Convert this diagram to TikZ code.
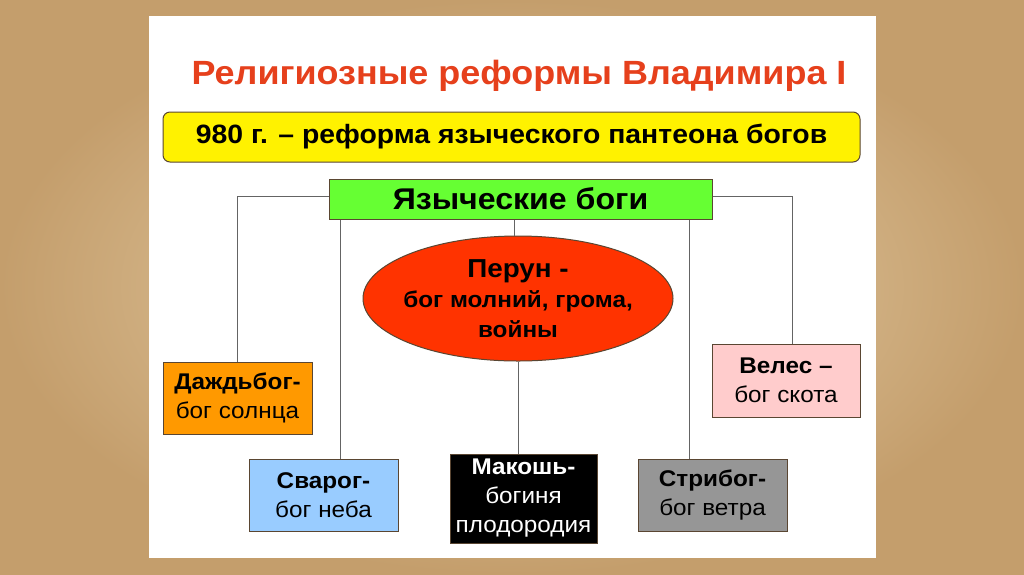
\documentclass[tikz,border=0pt]{standalone}
\usepackage{fontspec}
\setmainfont[FakeStretch=1.07]{Liberation Sans}
\usetikzlibrary{shapes.geometric}

\definecolor{parch}{RGB}{232,211,174}
\definecolor{parchdark}{RGB}{196,158,108}
\definecolor{titlered}{RGB}{230,64,28}
\definecolor{boxline}{RGB}{90,70,50}
\definecolor{linegray}{RGB}{100,100,100}
\definecolor{dazhdfill}{RGB}{255,153,0}
\definecolor{svarogfill}{RGB}{153,204,255}
\definecolor{stribogfill}{RGB}{150,150,150}
\definecolor{velesfill}{RGB}{255,204,204}
\definecolor{godsfill}{RGB}{102,255,51}
\definecolor{perunfill}{RGB}{255,51,0}

\begin{document}
\begin{tikzpicture}[x=1pt,y=-1pt,
  godbox/.style={draw=boxline,line width=1pt,minimum width=149pt,minimum height=72pt,
    inner sep=0pt,align=center,font=\fontsize{22.7}{29}\selectfont},
  link/.style={draw=linegray,line width=1pt}]

% parchment and slide
\shade[inner color=parch,outer color=parchdark] (0,0) rectangle (1024,574);
\useasboundingbox (0,0) rectangle (1024,574);
\fill[white] (149,16) rectangle (876,558);

% headings
\node (title) at (519,76) {\fontsize{33.6}{36}\selectfont\bfseries\color{titlered}Религиозные реформы Владимира I};
\node[draw=boxline,fill=yellow,rounded corners=7pt,line width=1pt,minimum width=697pt,minimum height=50pt]
  (reform) at (511.5,137) {\fontsize{26.5}{28}\selectfont\bfseries 980 г. – реформа языческого пантеона богов};
\node[draw=boxline,fill=godsfill,line width=1pt,minimum width=383pt,minimum height=40pt]
  (gods) at (520.5,199) {\fontsize{30}{30}\selectfont\bfseries Языческие боги};

% gods
\node[ellipse,draw=boxline,fill=perunfill,line width=1pt,minimum width=310pt,minimum height=125pt,
  inner xsep=-8pt,inner ysep=-12pt,align=center,font=\fontsize{22.7}{30}\selectfont\bfseries] (perun) at (518,298.5)
  {{\fontsize{26}{30}\selectfont Перун -}\\бог молний, грома,\\войны};
\node[godbox,fill=dazhdfill] (dazhd) at (237.5,398) {{\bfseries Даждьбог-}\\бог солнца};
\node[godbox,fill=svarogfill] (svarog) at (323.5,495.5) {{\bfseries Сварог-}\\бог неба};
\node[godbox,fill=black,text=white,minimum width=147pt,minimum height=89pt] (makosh) at (523.5,498.5)
  {{\bfseries Макошь-}\\богиня\\плодородия};
\node[godbox,fill=stribogfill] (stribog) at (712.5,495) {{\bfseries Стрибог-}\\бог ветра};
\node[godbox,fill=velesfill,minimum width=148pt,minimum height=73pt] (veles) at (786,380.5)
  {{\bfseries Велес –}\\бог скота};

% connectors
\draw[link] ([yshift=3pt]gods.west) -| (dazhd.north);
\draw[link] ([yshift=3pt]gods.east) -| ([xshift=6pt]veles.north);
\draw[link] ([xshift=17pt]svarog.north) -- ([xshift=17pt]svarog.north |- gods.south);
\draw[link] ([xshift=-23pt]stribog.north) -- ([xshift=-23pt]stribog.north |- gods.south);
\draw[link] ([xshift=-4pt]perun.north) -- ([xshift=-4pt]perun.north |- gods.south);
\draw[link] (perun.south) -- (perun.south |- makosh.north);
\end{tikzpicture}
\end{document}
